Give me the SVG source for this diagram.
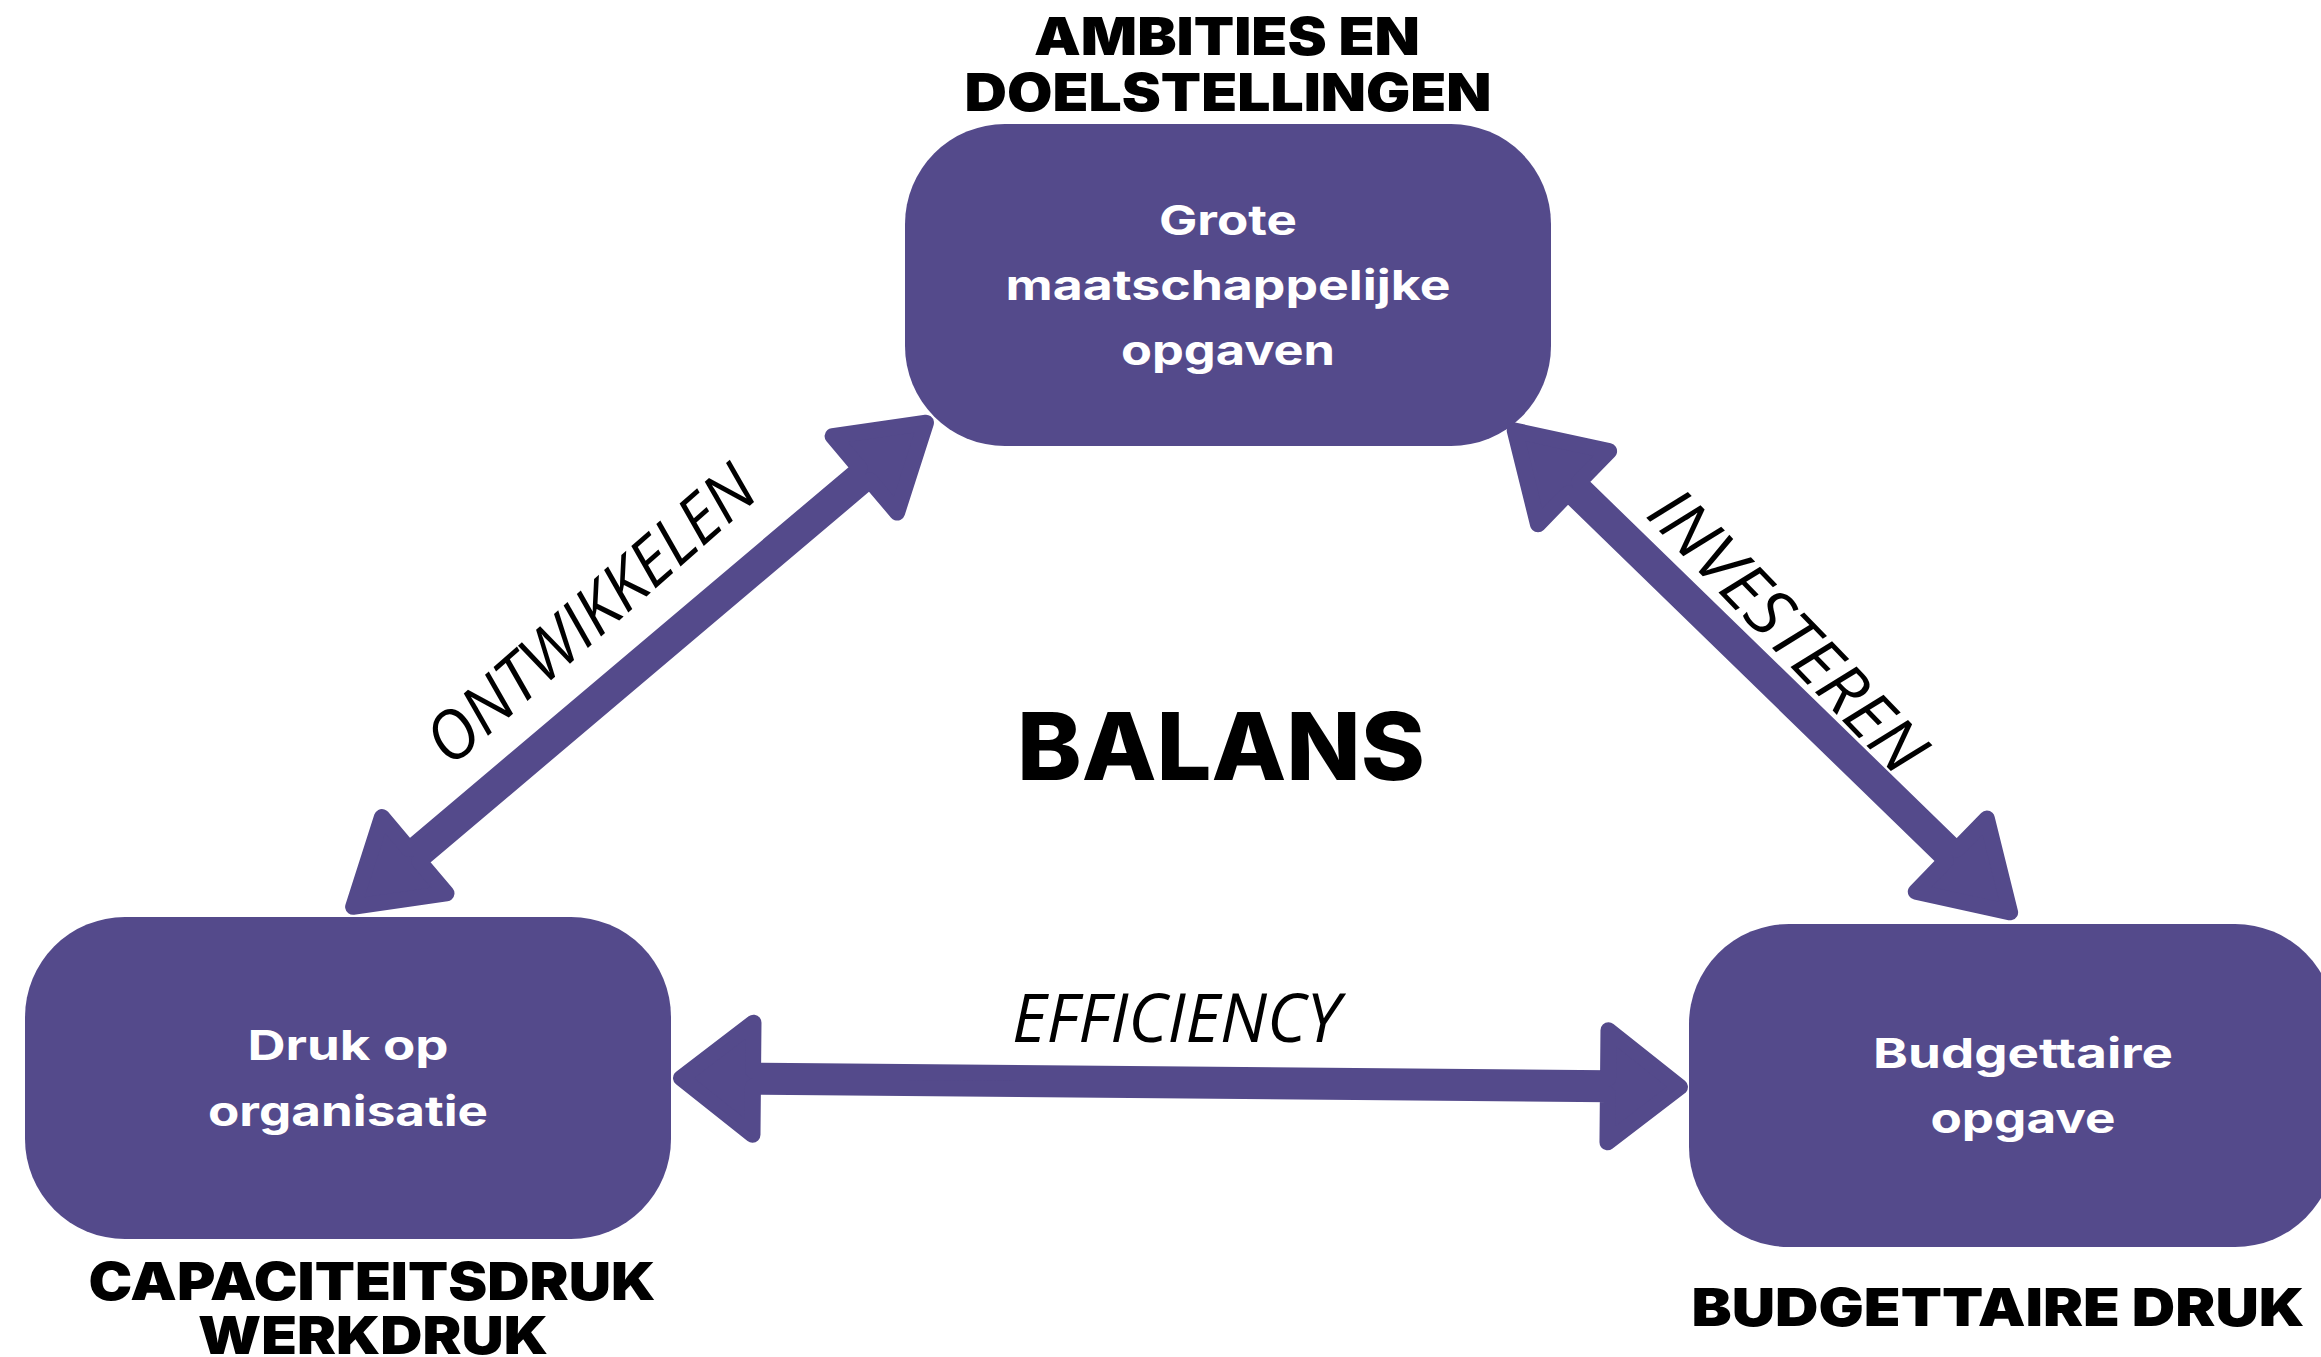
<svg xmlns="http://www.w3.org/2000/svg" width="2321" height="1357" viewBox="0 0 2321 1357">
<style>
.box{fill:#544a8b}
.arr{fill:#544a8b;stroke:#544a8b;stroke-width:16;stroke-linejoin:round}
.head{font-family:Inter,"Liberation Sans",sans-serif;font-weight:900;font-size:52px;fill:#000;text-anchor:middle}
.lbl{font-family:Inter,"Liberation Sans",sans-serif;font-weight:700;font-size:41px;fill:#fff;text-anchor:middle}
.it{font-family:"Open Sans","Liberation Sans",sans-serif;font-style:italic;font-weight:400;font-size:67px;fill:#000;text-anchor:middle}
.big{font-family:Inter,"Liberation Sans",sans-serif;font-weight:800;font-size:94px;fill:#000;text-anchor:middle}
</style>
<rect width="2321" height="1357" fill="#fff"/>
<g id="connectors">
  <path class="arr" transform="translate(347,912) rotate(-40.2)" d="M8,0 L88,-50 L88,-8 L678,-8 L678,-50 L758,0 L678,50 L678,8 L88,8 L88,50 Z"/>
  <path class="arr" transform="translate(1509,425) rotate(44.2)" d="M8,0 L90,-51 L90,-8 L617,-8 L617,-51 L699,0 L617,51 L617,8 L90,8 L90,51 Z"/>
  <path class="arr" transform="translate(673,1078) rotate(0.51)" d="M8,0 L80,-56 L80,-8 L935,-8 L935,-56 L1007,0 L935,56 L935,8 L80,8 L80,56 Z"/>
  <text class="it" transform="translate(606,632) rotate(-41.3)" textLength="413" lengthAdjust="spacingAndGlyphs">ONTWIKKELEN</text>
  <text class="it" transform="translate(1771,647) rotate(46)" textLength="365" lengthAdjust="spacingAndGlyphs">INVESTEREN</text>
  <text class="it" x="1176" y="1042" textLength="328" lengthAdjust="spacingAndGlyphs">EFFICIENCY</text>
</g>
<g id="node-top">
  <rect class="box" x="905" y="124" width="646" height="322" rx="100" ry="100"/>
  <text class="lbl" x="1228" y="235" textLength="138" lengthAdjust="spacingAndGlyphs">Grote</text>
  <text class="lbl" x="1228" y="300" textLength="445" lengthAdjust="spacingAndGlyphs">maatschappelijke</text>
  <text class="lbl" x="1228" y="365" textLength="214" lengthAdjust="spacingAndGlyphs">opgaven</text>
  <text class="head" x="1227" y="55" textLength="386" lengthAdjust="spacingAndGlyphs">AMBITIES EN</text>
  <text class="head" x="1228" y="111" textLength="527" lengthAdjust="spacingAndGlyphs">DOELSTELLINGEN</text>
</g>
<g id="node-left">
  <rect class="box" x="25" y="917" width="646" height="322" rx="100" ry="100"/>
  <text class="lbl" x="348" y="1060" textLength="201" lengthAdjust="spacingAndGlyphs">Druk op</text>
  <text class="lbl" x="348" y="1126" textLength="280" lengthAdjust="spacingAndGlyphs">organisatie</text>
  <text class="head" x="372" y="1300" textLength="567" lengthAdjust="spacingAndGlyphs">CAPACITEITSDRUK</text>
  <text class="head" x="373" y="1354" textLength="350" lengthAdjust="spacingAndGlyphs">WERKDRUK</text>
</g>
<g id="node-right">
  <rect class="box" x="1689" y="924" width="646" height="323" rx="100" ry="100"/>
  <text class="lbl" x="2023" y="1068" textLength="300" lengthAdjust="spacingAndGlyphs">Budgettaire</text>
  <text class="lbl" x="2023" y="1133" textLength="185" lengthAdjust="spacingAndGlyphs">opgave</text>
  <text class="head" x="1998" y="1326" textLength="613" lengthAdjust="spacingAndGlyphs">BUDGETTAIRE DRUK</text>
</g>
<g id="center">
  <text class="big" x="1221" y="780" textLength="408" lengthAdjust="spacingAndGlyphs">BALANS</text>
</g>
</svg>
